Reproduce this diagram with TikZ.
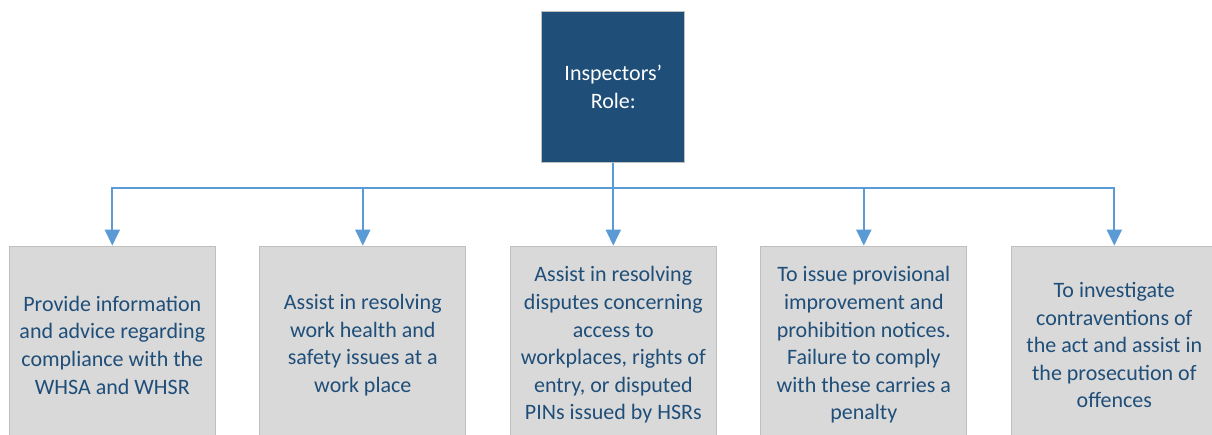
\documentclass[tikz,border=0pt]{standalone}
\usepackage{fontspec}
\setmainfont{Carlito}
\usetikzlibrary{positioning,arrows.meta}
\definecolor{roleblue}{HTML}{1F4E79}
\definecolor{linkblue}{HTML}{5B9BD5}
\definecolor{taskgray}{HTML}{D9D9D9}
\definecolor{edgegray}{HTML}{BFBFBF}

\begin{document}
\begin{tikzpicture}[x=1pt,y=1pt,
	role/.style={ % top box
		draw=edgegray, fill=roleblue, text=white, line width=1pt,
		minimum width=143pt, minimum height=151pt, align=center,
		font=\fontsize{22}{28}\selectfont
	},
	task/.style={ % grey boxes below
		draw=edgegray, fill=taskgray, text=roleblue, line width=1pt,
		minimum width=206pt, minimum height=198pt, align=center, inner sep=0pt,
		font=\fontsize{22}{27.6}\selectfont
	},
	link/.style={draw=linkblue, line width=2pt, line join=miter,
		-{Triangle[length=16pt,width=15pt]}}
]
	\useasboundingbox (0,0) rectangle (1212,-435);
	%% top box
	\node[role] (role) at (613.3,-87.3) {Inspectors’\\Role:};
	%% the five tasks
	\node[task, below =82.3pt of role] (t3) {Assist in resolving\\disputes concerning\\access to\\workplaces, rights of\\entry, or disputed\\PINs issued by HSRs};
	\node[task, left =43.5pt of t3] (t2) {Assist in resolving\\work health and\\safety issues at a\\work place};
	\node[task, left =43.5pt of t2] (t1) {Provide information\\and advice regarding\\compliance with the\\WHSA and WHSR};
	\node[task, right =43.5pt of t3] (t4) {To issue provisional\\improvement and\\prohibition notices.\\Failure to comply\\with these carries a\\penalty};
	\node[task, right =43.5pt of t4] (t5) {To investigate\\contraventions of\\the act and assist in\\the prosecution of\\offences};
	% connectors
	\coordinate[below =24.3pt of role.south] (bus);
	\draw[link] (role.south) -- (bus) -| (t1.north);
	\draw[link] (role.south) -- (bus) -| (t2.north);
	\draw[link] (role.south) -- (t3.north);
	\draw[link] (role.south) -- (bus) -| (t4.north);
	\draw[link] (role.south) -- (bus) -| (t5.north);
\end{tikzpicture}
\end{document}
